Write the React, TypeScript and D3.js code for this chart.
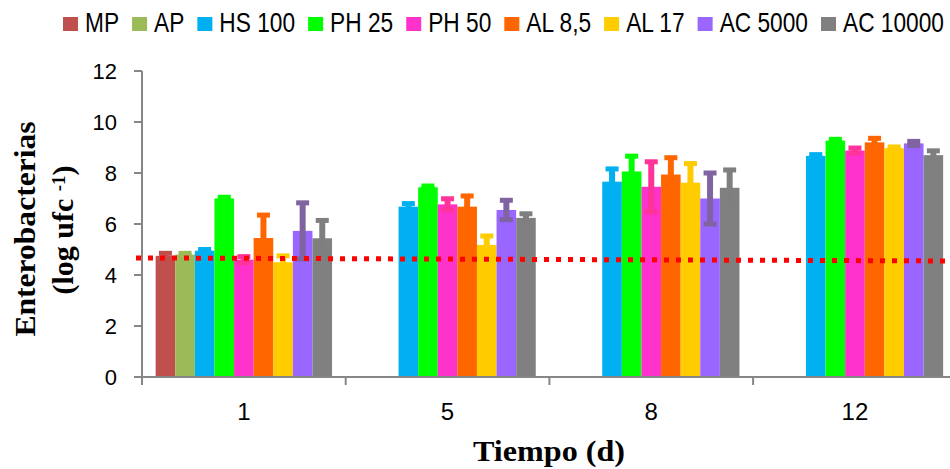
import * as d3 from 'd3'
import { useRef, useEffect } from 'react'

// days on the x axis
const days = ['1', '5', '8', '12']
const seriesNames = ['MP', 'AP', 'HS 100', 'PH 25', 'PH 50', 'AL 8,5', 'AL 17', 'AC 5000', 'AC 10000']
const barColors = ['#C0504D', '#9BBB59', '#00B0F0', '#00FF00', '#FF33CC', '#FF6600', '#FFCC00', '#9966FF', '#808080']
const errColors = ['#C0504D', '#9BBB59', '#00B0F0', '#00FF00', '#FF3399', '#FF6600', '#FFCC00', '#8064A2', '#7F7F7F']

// log ufc values per treatment, one per day (null = not measured)
const mp = [4.75, null, null, null]
const ap = [4.8, null, null, null]
const hs100 = [4.95, 6.68, 7.66, 8.67]
const ph25 = [7.0, 7.44, 8.06, 9.27]
const ph50 = [4.6, 6.77, 7.46, 8.88]
const al85 = [5.45, 6.68, 7.94, 9.2]
const al17 = [4.5, 5.18, 7.62, 8.97]
const ac5000 = [5.73, 6.55, 7.0, 9.16]
const ac10000 = [5.44, 6.24, 7.42, 8.7]

// error bar half-widths
const mpErr = [0.1, null, null, null]
const apErr = [0.05, null, null, null]
const hs100Err = [0.05, 0.12, 0.5, 0.05]
const ph25Err = [0.05, 0.05, 0.6, 0.05]
const ph50Err = [0.12, 0.22, 0.98, 0.1]
const al85Err = [0.9, 0.42, 0.66, 0.16]
const al17Err = [0.25, 0.35, 0.75, 0.05]
const ac5000Err = [1.1, 0.38, 1.0, 0.08]
const ac10000Err = [0.7, 0.16, 0.7, 0.17]

const values = [mp, ap, hs100, ph25, ph50, al85, al17, ac5000, ac10000]
const errors = [mpErr, apErr, hs100Err, ph25Err, ph50Err, al85Err, al17Err, ac5000Err, ac10000Err]

const yTicks = [0, 2, 4, 6, 8, 10, 12]
// red dotted reference line, start and end value
const refLine = [4.67, 4.55]

function App() {
    const svgRef = useRef<SVGSVGElement>(null)

    useEffect(() => {
        const svg = d3.select(svgRef.current)
        svg.selectAll('*').remove()

        const left = 142
        const step = 203.7
        const axisColor = '#868686'
        const sansFont = '"Liberation Sans", Arial, sans-serif'
        const serifFont = '"Liberation Serif", "Times New Roman", serif'

        const scaleY = d3.scaleLinear().domain([0, 12]).range([377, 71])
        const scaleX = d3.scaleBand()
            .domain(days)
            .range([left, left + step * days.length])
            .paddingInner(0.134)
            .paddingOuter(0.067)
        const scaleSeries = d3.scaleBand()
            .domain(seriesNames)
            .range([0, scaleX.bandwidth()])
            .padding(0)

        // bars
        const gBars = svg.append('g')
        seriesNames.forEach((name, i) => {
            values[i].forEach((v, j) => {
                if (v == null) return
                gBars.append('rect')
                    .attr('x', scaleX(days[j])! + scaleSeries(name)!)
                    .attr('y', scaleY(v))
                    .attr('width', scaleSeries.bandwidth())
                    .attr('height', scaleY(0) - scaleY(v))
                    .attr('fill', barColors[i])
            })
        })

        // error bars
        const gErr = svg.append('g')
        seriesNames.forEach((name, i) => {
            values[i].forEach((v, j) => {
                const e = errors[i][j]
                if (v == null || e == null) return
                const cx = scaleX(days[j])! + scaleSeries(name)! + scaleSeries.bandwidth() / 2
                gErr.append('line')
                    .attr('x1', cx).attr('x2', cx)
                    .attr('y1', scaleY(v - e)).attr('y2', scaleY(v + e))
                    .attr('stroke', errColors[i])
                    .attr('stroke-width', 6)
                ;[v - e, v + e].forEach(ev => {
                    gErr.append('rect')
                        .attr('x', cx - 6.5)
                        .attr('y', scaleY(ev) - 2.5)
                        .attr('width', 13)
                        .attr('height', 5)
                        .attr('fill', errColors[i])
                })
            })
        })

        // axes
        const gAxis = svg.append('g').attr('stroke', axisColor).attr('stroke-width', 2)
        gAxis.append('line')
            .attr('x1', left).attr('x2', left)
            .attr('y1', scaleY(12)).attr('y2', scaleY(0) + 8)
        gAxis.append('line')
            .attr('x1', left).attr('x2', 950)
            .attr('y1', scaleY(0)).attr('y2', scaleY(0))
        yTicks.forEach(t => {
            gAxis.append('line')
                .attr('x1', left - 8).attr('x2', left)
                .attr('y1', scaleY(t)).attr('y2', scaleY(t))
        })
        d3.range(days.length + 1).forEach(k => {
            gAxis.append('line')
                .attr('x1', left + k * step).attr('x2', left + k * step)
                .attr('y1', scaleY(0)).attr('y2', scaleY(0) + 8)
        })

        svg.append('g').selectAll('text')
            .data(yTicks)
            .join('text')
            .attr('x', 117)
            .attr('y', d => scaleY(d) + 8)
            .attr('text-anchor', 'end')
            .attr('font-family', sansFont)
            .attr('font-size', 22)
            .text(d => d)

        svg.append('g').selectAll('text')
            .data(days)
            .join('text')
            .attr('x', d => scaleX(d)! + scaleX.bandwidth() / 2)
            .attr('y', 420)
            .attr('text-anchor', 'middle')
            .attr('font-family', sansFont)
            .attr('font-size', 24)
            .text(d => d)

        // dotted reference line
        svg.append('line')
            .attr('x1', 136).attr('x2', 950)
            .attr('y1', scaleY(refLine[0])).attr('y2', scaleY(refLine[1]))
            .attr('stroke', '#FF0000')
            .attr('stroke-width', 5)
            .attr('stroke-dasharray', '5 7')

        // axis titles
        svg.append('text')
            .attr('x', 549).attr('y', 461)
            .attr('text-anchor', 'middle')
            .attr('font-family', serifFont)
            .attr('font-weight', 'bold')
            .attr('font-size', 30)
            .attr('textLength', 152)
            .attr('lengthAdjust', 'spacingAndGlyphs')
            .text('Tiempo (d)')

        svg.append('text')
            .attr('transform', 'translate(35, 229) rotate(-90)')
            .attr('text-anchor', 'middle')
            .attr('font-family', serifFont)
            .attr('font-weight', 'bold')
            .attr('font-size', 30)
            .attr('textLength', 215)
            .attr('lengthAdjust', 'spacingAndGlyphs')
            .text('Enterobacterias')

        const yTitle2 = svg.append('text')
            .attr('transform', 'translate(73, 230) rotate(-90)')
            .attr('text-anchor', 'middle')
            .attr('font-family', serifFont)
            .attr('font-weight', 'bold')
            .attr('font-size', 30)
        yTitle2.append('tspan').text('(log ufc ')
        yTitle2.append('tspan').attr('font-size', 19).attr('baseline-shift', '40%').text('-1')
        yTitle2.append('tspan').text(')')

        // legend, laid out from measured text widths
        const gLegend = svg.append('g')
        const legendLeft = 63
        const legendRight = 944
        const texts = seriesNames.map(name => gLegend.append('text')
            .attr('font-family', sansFont)
            .attr('font-size', 27)
            .text(name))
        const widths = texts.map(t => (t.node() as SVGTextElement).getComputedTextLength())
        const boxW = 15, gapBox = 7, gapItem = 13
        const natural = d3.sum(widths)
        const fixed = seriesNames.length * (boxW + gapBox) + (seriesNames.length - 1) * gapItem
        const sx = (legendRight - legendLeft - fixed) / natural
        let cursor = legendLeft
        seriesNames.forEach((name, i) => {
            gLegend.append('rect')
                .attr('x', cursor).attr('y', 17)
                .attr('width', boxW).attr('height', 14)
                .attr('fill', barColors[i])
            cursor += boxW + gapBox
            texts[i].attr('transform', `translate(${cursor}, 32) scale(${sx}, 1)`)
            cursor += widths[i] * sx + gapItem
        })
    }, [])

    return (
        <svg ref={svgRef} width={950} height={469}
            style={{ position: 'absolute', left: 0, top: 0, background: '#fff' }} />
    )
}

export default App
